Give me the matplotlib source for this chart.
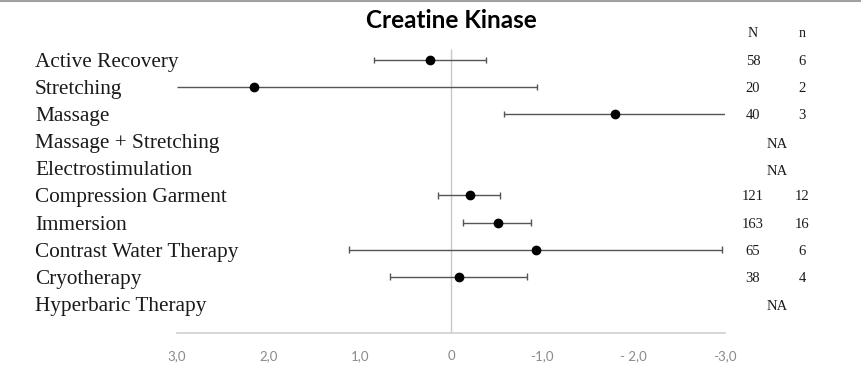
import matplotlib.pyplot as plt
from matplotlib.transforms import blended_transform_factory
from matplotlib.lines import Line2D

# Data
treatments = ["Active Recovery", "Stretching", "Massage", "Massage + Stretching",
              "Electrostimulation", "Compression Garment", "Immersion",
              "Contrast Water Therapy", "Cryotherapy", "Hyperbaric Therapy"]
effect = [0.23, 2.16, -1.80, None, None, -0.21, -0.51, -0.93, -0.09, None]
ci_low = [-0.38, -0.94, -3.0, None, None, -0.54, -0.88, -2.97, -0.83, None]
ci_high = [0.84, 3.0, -0.58, None, None, 0.14, -0.13, 1.12, 0.67, None]
N = ["58", "20", "40", None, None, "121", "163", "65", "38", None]
n = ["6", "2", "3", None, None, "12", "16", "6", "4", None]
ticks = [3, 2, 1, 0, -1, -2, -3]
tick_labels = ["3,0", "2,0", "1,0", "0", "-1,0", "- 2,0", "-3,0"]

fig = plt.figure(figsize=(8.61, 3.73), dpi=100)
ax = fig.add_axes([0.2056, 0.1072, 0.6365, 0.8046])

rows = list(range(len(treatments)))

# zero line
ax.vlines(0, -0.4, 10.08, color="#c8c8c8", lw=1, zorder=1)

for i in rows:
    if effect[i] is None:
        continue
    lo, hi = ci_low[i], ci_high[i]
    ax.hlines(i, lo, hi, color="#555555", lw=1, zorder=2)
    # caps only where the interval is not clipped by the axis limits
    for end in (lo, hi):
        if abs(end) < 2.99 or (i == 7 and end == lo):
            ax.vlines(end, i - 0.12, i + 0.12, color="#555555", lw=1, zorder=2)
    ax.plot(effect[i], i, "o", color="black", ms=6, zorder=3)

ax.set_xlim(3, -3)
ax.set_ylim(10.08, -1)
ax.set_yticks([])
ax.set_xticks(ticks)
ax.set_xticklabels(tick_labels, fontsize=9.5, color="#8a8a8a", family="Lato")
ax.tick_params(axis="x", length=0, pad=12)
for s in ["top", "left", "right"]:
    ax.spines[s].set_visible(False)
ax.spines["bottom"].set_color("#d0d0d0")
ax.spines["bottom"].set_linewidth(1.2)

tr = blended_transform_factory(fig.transFigure, ax.transData)
for i, name in enumerate(treatments):
    ax.text(35 / 861, i, name, transform=tr, fontsize=15.3, family="Liberation Serif",
            va="center_baseline", ha="left", color="#1a1a1a")
    if N[i] is None:
        ax.text(777 / 861, i + 0.05, "NA", transform=tr, fontsize=10.5,
                family="Liberation Serif", va="center_baseline", ha="center", color="#1a1a1a")
    else:
        ax.text(753 / 861, i, N[i], transform=tr, fontsize=10.5,
                family="Liberation Serif", va="center_baseline", ha="center", color="#1a1a1a")
        ax.text(802 / 861, i, n[i], transform=tr, fontsize=10.5,
                family="Liberation Serif", va="center_baseline", ha="center", color="#1a1a1a")

ax.text(753 / 861, -1.02, "N", transform=tr, fontsize=10, family="Liberation Serif",
        va="center_baseline", ha="center", color="#1a1a1a")
ax.text(802 / 861, -1.02, "n", transform=tr, fontsize=10, family="Liberation Serif",
        va="center_baseline", ha="center", color="#1a1a1a")

fig.text(451 / 861, 1 - 20 / 373, "Creatine Kinase", fontsize=17.5, fontweight="bold",
         family="Lato", ha="center", va="center")

# top border
fig.add_artist(Line2D([0, 1], [0.998, 0.998], transform=fig.transFigure,
                      color="#a0a0a0", lw=1.5))

fig.savefig("out.png", dpi=100)
